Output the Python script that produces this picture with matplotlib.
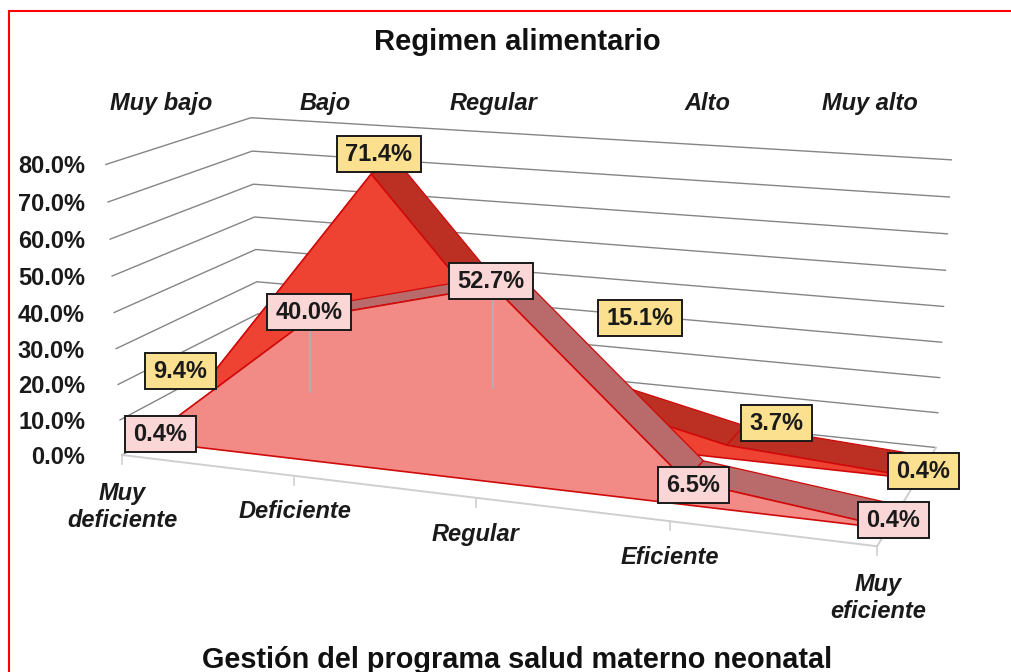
import numpy as np
import matplotlib
matplotlib.use("Agg")
import matplotlib.pyplot as plt
from matplotlib.patches import Polygon, Rectangle

plt.rcParams['font.family'] = ['Liberation Sans', 'DejaVu Sans']

# ---- data ----
categories = ["Muy\ndeficiente", "Deficiente", "Regular", "Eficiente", "Muy\neficiente"]
top_labels = ["Muy bajo", "Bajo", "Regular", "Alto", "Muy alto"]
front_values = [0.4, 40.0, 52.7, 6.5, 0.4]
back_values = [9.4, 71.4, 15.1, 3.7, 0.4]
y_ticks = [0, 10, 20, 30, 40, 50, 60, 70, 80]
title = "Regimen alimentario"
xlabel = "Gestión del programa salud materno neonatal"

# ---- layout ----
W, H = 1011, 672
C_GRID = "#858585"; C_FLOOR = "#cfcfcf"; C_EDGE = "#d00a0a"
C_PINK = "#f28b85"; C_PINK_TOP = "#b96a6a"
C_RED = "#ee4232"; C_RED_TOP = "#bb3022"
C_BOX_Y = "#fbe08f"; C_BOX_P = "#fbd6d6"
C_TEXT = "#1a1a1a"
BAND_FRONT = (0.16, 0.365)
BAND_BACK = (0.65, 0.88)

# Camera of the perspective view, calibrated from the walls of the box:
# (category, depth, value) -> pixel
calib = [
    (0, 0, 0, 122, 455), (1, 0, 0, 293, 475.5), (2, 0, 0, 476, 497.5),
    (3, 0, 0, 670, 521), (4, 0, 0, 878, 545),
    (0, 0, 80, 106, 165), (0, 0, 70, 108, 202), (0, 0, 60, 110, 239),
    (0, 0, 50, 112, 276), (0, 0, 40, 115, 312), (0, 0, 30, 116, 349),
    (0, 0, 20, 118, 385), (0, 0, 10, 120, 421),
    (0, 1, 80, 250, 118), (0, 1, 70, 252, 151), (0, 1, 60, 254, 184),
    (0, 1, 50, 254, 217), (0, 1, 40, 256, 249), (0, 1, 30, 258, 281),
    (4, 1, 80, 951, 160), (4, 1, 70, 950, 197), (4, 1, 60, 947, 234),
    (4, 1, 50, 946, 270), (4, 1, 40, 943, 306), (4, 1, 30, 942, 342),
    (4, 1, 20, 940, 378), (4, 1, 10, 938, 414), (4, 1, 0, 935, 448),
]
A, b = [], []
for c, d, v, u, t in calib:
    X = [c / 4, d, v / 80, 1]
    A.append(X + [0, 0, 0, 0] + [-u * x for x in X[:3]]); b.append(u)
    A.append([0, 0, 0, 0] + X + [-t * x for x in X[:3]]); b.append(t)
p = np.linalg.lstsq(np.array(A), np.array(b), rcond=None)[0]
P = np.append(p, 1).reshape(3, 4)


def proj(c, d, v):
    r = P @ np.array([c / 4, d, v / 80, 1])
    return r[0] / r[2], r[1] / r[2]


fig = plt.figure(figsize=(W / 100, H / 100), dpi=100, facecolor="white")
ax = fig.add_axes([0, 0, 1, 1])
ax.set_xlim(0, W); ax.set_ylim(H, 0); ax.axis("off")

# frame: left and top only reach the picture's edges
ax.plot([9, 9, W], [H, 11, 11], color="#ff0000", lw=1.5, zorder=1, solid_joinstyle="miter")

n = len(categories)
# gridlines on walls
for v in y_ticks:
    pts = [proj(0, 0, v), proj(0, 1, v), proj(n - 1, 1, v)]
    ax.plot(*zip(*pts), color=C_GRID, lw=1.0, zorder=2)
    x0, y0 = proj(0, 0, v)
    ax.text(85, y0 + 2.5, f"{v:.1f}%", ha="right", va="center", fontsize=17,
            fontweight="bold", color=C_TEXT, zorder=8)

# floor outline and ticks
fl = [proj(0, 0, 0), proj(n - 1, 0, 0), proj(n - 1, 1, 0)]
ax.plot(*zip(*fl), color=C_FLOOR, lw=1.4, zorder=2)
for i in range(n):
    x, y = proj(i, 0, 0)
    ax.plot([x, x], [y, y + 9], color=C_FLOOR, lw=1.2, zorder=2)


def area(values, band, face, top, z):
    d0, d1 = band
    for i in range(n - 1):
        q = [proj(i, d0, values[i]), proj(i + 1, d0, values[i + 1]),
             proj(i + 1, d1, values[i + 1]), proj(i, d1, values[i])]
        ax.add_patch(Polygon(q, closed=True, fc=top, ec=C_EDGE, lw=0.9, zorder=z))
    poly = [proj(i, d0, values[i]) for i in range(n)] + [proj(n - 1, d0, 0), proj(0, d0, 0)]
    ax.add_patch(Polygon(poly, closed=True, fc=face, ec=C_EDGE, lw=1.2, zorder=z + 0.5))


area(back_values, BAND_BACK, C_RED, C_RED_TOP, 3)
area(front_values, BAND_FRONT, C_PINK, C_PINK_TOP, 4)

# leader lines
for x, y0, y1 in [(310, 330, 392), (493, 298, 388)]:
    ax.plot([x, x], [y0, y1], color="#b5b0b0", lw=1.4, zorder=5)

# data labels
back_pos = [(180, 371), (379, 154), (640, 318), (776, 423), (923, 471)]
front_pos = [(160, 434), (309, 312), (491, 281), (693, 485), (893, 520)]
for vals, pos, col in [(back_values, back_pos, C_BOX_Y), (front_values, front_pos, C_BOX_P)]:
    for v, (x, y) in zip(vals, pos):
        s = f"{v:.1f}%"
        w = 84 if len(s) == 5 else 71
        ax.add_patch(Rectangle((x - w / 2, y - 18), w, 36, fc=col, ec=C_TEXT, lw=1.4, zorder=6))
        ax.text(x, y + 0.5, s, ha="center", va="center", fontsize=17, fontweight="bold",
                color=C_TEXT, zorder=7)

# axis labels
cat_pos = [(122, 507), (295, 512), (476, 535), (670, 558), (878, 598)]
for s, (x, y) in zip(categories, cat_pos):
    ax.text(x, y, s, ha="center", va="center", fontsize=17, fontweight="bold", style="italic",
            color=C_TEXT, linespacing=1.22, zorder=8)
top_x = [161, 325, 494, 707, 870]
for s, x in zip(top_labels, top_x):
    ax.text(x, 110, s, ha="center", va="baseline", fontsize=17, fontweight="bold", style="italic",
            color=C_TEXT, zorder=8)

ax.text(517, 50, title, ha="center", va="baseline", fontsize=21, fontweight="bold", color="#111111")
ax.text(517, 668, xlabel, ha="center", va="baseline", fontsize=20.8, fontweight="bold", color="#111111")

fig.savefig("out.png", dpi=100)
